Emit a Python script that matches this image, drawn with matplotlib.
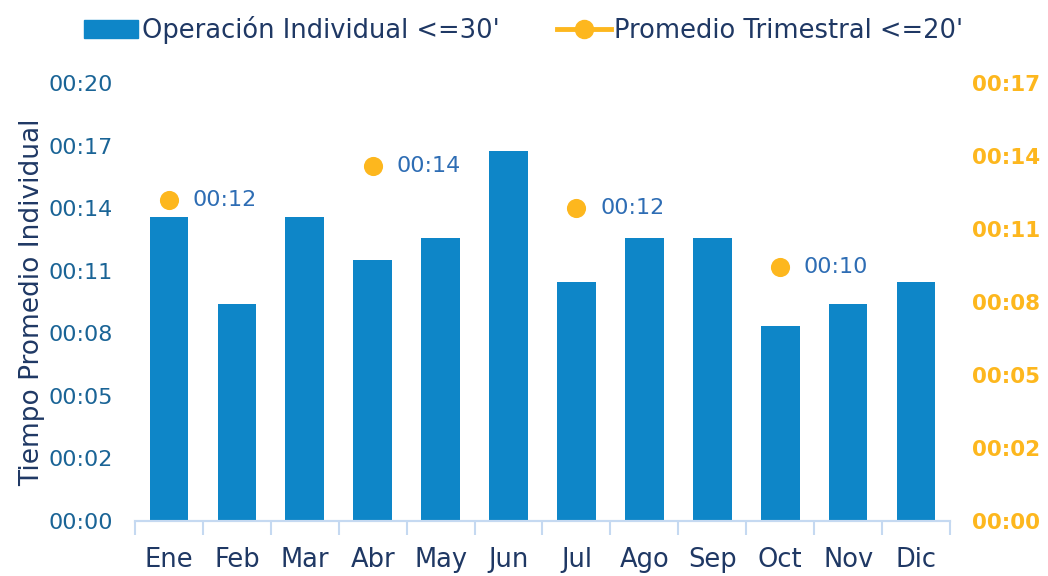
import numpy as np
import matplotlib
matplotlib.use('Agg')
import matplotlib.pyplot as plt
from matplotlib.patches import Patch
from matplotlib.lines import Line2D

# data (minutes)
months = ['Ene', 'Feb', 'Mar', 'Abr', 'May', 'Jun', 'Jul', 'Ago', 'Sep', 'Oct', 'Nov', 'Dic']
individual = [13.9, 9.9, 13.9, 11.9, 12.9, 16.9, 10.9, 12.9, 12.9, 8.9, 9.9, 10.9]
quarter_idx = [0, 3, 6, 9]
quarter_avg = [12.67, 14.02, 12.33, 10.02]

bar_color = '#0E86C8'
dot_color = '#FDB71E'
navy = '#1F3864'
tick_blue = '#1A6496'
label_blue = '#2E6DB4'

fmt = lambda v: '00:%02d' % int(v + 1e-6)

fig = plt.figure(figsize=(10.48, 5.76), dpi=100)
ax = fig.add_axes([0.1288, 0.0955, 0.7777, 0.7604])
ax2 = ax.twinx()

x = np.arange(len(months))
ax.bar(x, individual, width=0.57, color=bar_color, zorder=2)

ax2.scatter(quarter_idx, quarter_avg, s=190, color=dot_color, zorder=3, linewidths=0)
for i, v in zip(quarter_idx, quarter_avg):
    ax2.annotate(fmt(v), (i, v), xytext=(17, 0), textcoords='offset points',
                 va='center', ha='left', fontsize=16, color=label_blue)

# left axis
left_ticks = 20 / 7 * np.arange(8)
ax.set_ylim(0, 20)
ax.set_yticks(left_ticks)
ax.set_yticklabels([fmt(v) for v in left_ticks], fontsize=16, color=tick_blue)
ax.tick_params(axis='y', length=0, pad=16)
ax.set_ylabel('Tiempo Promedio Individual', fontsize=19, color=navy, labelpad=2)

# right axis
right_step = 2.88
right_ticks = right_step * np.arange(7)
ax2.set_ylim(0, right_step * 6)
ax2.set_yticks(right_ticks)
ax2.set_yticklabels([fmt(v) for v in right_ticks], fontsize=15.5, color=dot_color,
                    fontweight='bold')
ax2.tick_params(axis='y', length=0, pad=16)

# x axis
ax.set_xlim(-0.5, len(months) - 0.5)
ax.set_xticks(x)
ax.set_xticklabels(months, fontsize=18.5, color=navy)
ax.set_xticks(np.arange(len(months) + 1) - 0.5, minor=True)
ax.tick_params(axis='x', which='major', length=0, pad=19)
ax.tick_params(axis='x', which='minor', length=10, width=1.5, color='#C5D9F1')

for a in (ax, ax2):
    for s in ['top', 'left', 'right']:
        a.spines[s].set_visible(False)
    a.spines['bottom'].set_color('#C5D9F1')
    a.spines['bottom'].set_linewidth(1.5)

handles = [Patch(color=bar_color),
           Line2D([0], [0], color=dot_color, lw=3.5, marker='o', markersize=13)]
fig.legend(handles, ["Operación Individual <=30'", "Promedio Trimestral <=20'"],
           loc='upper center', bbox_to_anchor=(0.5, 1.013), ncol=2, frameon=False,
           fontsize=18.5, labelcolor=navy, handlelength=2.1, handletextpad=0.15,
           columnspacing=2.2, handleheight=0.7)

fig.savefig('out.png', dpi=100)
